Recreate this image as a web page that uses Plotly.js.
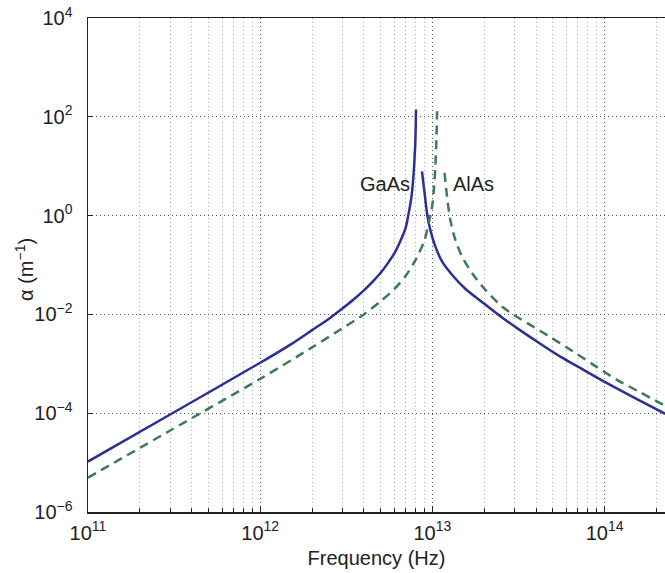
<!DOCTYPE html>
<html><head><meta charset="utf-8">
<script src="https://cdn.plot.ly/plotly-3.0.1.min.js"></script>
<style>html,body{margin:0;padding:0;background:#fff;overflow:hidden}</style>
</head><body><div id="chart" style="width:665px;height:573px"></div>
<script>
// GaAs (solid) — branch below the TO resonance
const gaasLowFreq  = [1e11, 3e11, 1e12, 1.5e12, 2e12, 2.5e12, 3e12, 3.5e12, 4e12, 4.5e12, 5e12, 5.5e12, 6e12, 6.5e12, 7e12, 7.2e12, 7.5e12, 7.6e12, 7.8e12, 7.9e12, 7.95e12, 8.0e12, 8.03e12];
const gaasLowAlpha = [1.05e-5, 9.4e-5, 1.05e-3, 2.45e-3, 4.8e-3, 8.1e-3, 1.31e-2, 2.02e-2, 3.06e-2, 4.6e-2, 6.87e-2, 0.108, 0.17, 0.30, 0.57, 0.90, 2.0, 2.8, 8.0, 18, 27, 60, 140];
// GaAs (solid) — branch above the LO frequency
const gaasHighFreq  = [8.70e12, 9.01e12, 9.30e12, 9.72e12, 1.04e13, 1.137e13, 1.30e13, 1.552e13, 1.983e13, 2.48e13, 3.10e13, 4.05e13, 5.53e13, 7.55e13, 1.033e14, 1.474e14, 2.25e14];
const gaasHighAlpha = [7.87, 2.87, 1.13, 0.518, 0.238, 0.118, 0.0634, 0.033, 0.0168, 9.16e-3, 5.27e-3, 2.82e-3, 1.40e-3, 7.54e-4, 4.06e-4, 2.09e-4, 9.7e-5];
// AlAs (dashed) — branch below the TO resonance
const alasLowFreq  = [1e11, 3e11, 1e12, 2e12, 3e12, 4e12, 5e12, 6e12, 7e12, 8e12, 9e12, 9.5e12, 1e13, 1.02e13, 1.04e13, 1.055e13, 1.065e13];
const alasLowAlpha = [4.95e-6, 4.46e-5, 4.95e-4, 2.15e-3, 5.22e-3, 1.0e-2, 1.84e-2, 3.24e-2, 0.0605, 0.128, 0.318, 0.685, 1.66, 3.35, 9.9, 34.5, 129];
// AlAs (dashed) — branch above the LO frequency
const alasHighFreq  = [1.177e13, 1.216e13, 1.27e13, 1.358e13, 1.485e13, 1.698e13, 2.028e13, 2.537e13, 2.962e13, 3.70e13, 4.84e13, 6.05e13, 8.63e13, 1.18e14, 1.612e14, 2.25e14];
const alasHighAlpha = [7.3, 2.45, 0.826, 0.325, 0.149, 0.0687, 0.0315, 0.01445, 9.82e-3, 6.15e-3, 3.47e-3, 2.13e-3, 9.53e-4, 4.73e-4, 2.64e-4, 1.41e-4];

const seriesNames = ['GaAs', 'AlAs'];
const xTitle = 'Frequency (Hz)';
const yTitle = 'α (m<sup>−1</sup>)';
const xTickVals = [1e11, 1e12, 1e13, 1e14];
const xTickText = ['10<sup>11</sup>', '10<sup>12</sup>', '10<sup>13</sup>', '10<sup>14</sup>'];
const yTickVals = [1e-6, 1e-4, 1e-2, 1e0, 1e2, 1e4];
const yTickText = ['10<sup>−6</sup>', '10<sup>−4</sup>', '10<sup>−2</sup>', '10<sup>0</sup>', '10<sup>2</sup>', '10<sup>4</sup>'];

const gaasColor = '#2b2f96';
const alasColor = '#3d7a59';

const minorVals = [];
for (const dec of [1e11, 1e12, 1e13, 1e14]) {
  for (let k = 2; k <= 9; k++) minorVals.push(k * dec);
}

const solid = {color: gaasColor, width: 2.5, shape: 'spline', smoothing: 0.8};
const dashed = {color: alasColor, width: 2.5, dash: '9px,6px', shape: 'spline', smoothing: 0.8};
const traces = [
  {x: gaasLowFreq, y: gaasLowAlpha, mode: 'lines', line: solid, name: seriesNames[0], hoverinfo: 'skip'},
  {x: gaasHighFreq, y: gaasHighAlpha, mode: 'lines', line: solid, name: seriesNames[0], hoverinfo: 'skip'},
  {x: alasLowFreq, y: alasLowAlpha, mode: 'lines', line: dashed, name: seriesNames[1], hoverinfo: 'skip'},
  {x: alasHighFreq, y: alasHighAlpha, mode: 'lines', line: dashed, name: seriesNames[1], hoverinfo: 'skip'}
];

const axisCol = '#222';
const layout = {
  width: 665, height: 573,
  margin: {l: 88, r: 0, t: 18, b: 61},
  paper_bgcolor: '#fff', plot_bgcolor: '#fff',
  font: {family: '"Liberation Sans", Arial, Helvetica, sans-serif', size: 20, color: axisCol},
  showlegend: false,
  xaxis: {
    type: 'log', range: [11, 14.3508], autorange: false,
    tickmode: 'array', tickvals: xTickVals, ticktext: xTickText,
    tickfont: {size: 20, color: axisCol},
    ticks: 'inside', ticklen: 6, tickcolor: axisCol, tickwidth: 1,
    showline: true, linecolor: axisCol, linewidth: 1.5, mirror: true,
    showgrid: true, gridcolor: '#555', gridwidth: 1, griddash: '1px,3px',
    minor: {tickmode: 'array', tickvals: minorVals, ticks: 'inside', ticklen: 4, tickcolor: axisCol,
            showgrid: true, gridcolor: '#aaa', gridwidth: 1, griddash: '1px,3px'},
    ticklabelstandoff: 2,
    title: {text: xTitle, standoff: 8, font: {size: 20, color: axisCol}},
    zeroline: false, automargin: false
  },
  yaxis: {
    type: 'log', range: [-6, 4], autorange: false,
    tickmode: 'array', tickvals: yTickVals, ticktext: yTickText,
    tickfont: {size: 20, color: axisCol},
    ticks: 'inside', ticklen: 5, tickcolor: axisCol, tickwidth: 1,
    showline: true, linecolor: axisCol, linewidth: 1.5, mirror: false,
    showgrid: true, gridcolor: '#555', gridwidth: 1, griddash: '1px,3px',
    ticklabelstandoff: 10,
    zeroline: false, automargin: false
  },
  annotations: [
    {xref: 'paper', yref: 'paper', x: -63 / 577, y: 0.49, text: yTitle, textangle: -90, showarrow: false,
     xanchor: 'center', yanchor: 'middle', font: {size: 20, color: axisCol}},
    {xref: 'x', yref: 'y', x: 12.8815, y: 0.646, text: seriesNames[0], showarrow: false,
     xanchor: 'right', yanchor: 'middle', font: {size: 20, color: axisCol}},
    {xref: 'x', yref: 'y', x: 13.108, y: 0.646, text: seriesNames[1], showarrow: false,
     xanchor: 'left', yanchor: 'middle', font: {size: 20, color: axisCol}}
  ]
};

Plotly.newPlot('chart', traces, layout, {staticPlot: true, displayModeBar: false});
</script>
</body></html>
